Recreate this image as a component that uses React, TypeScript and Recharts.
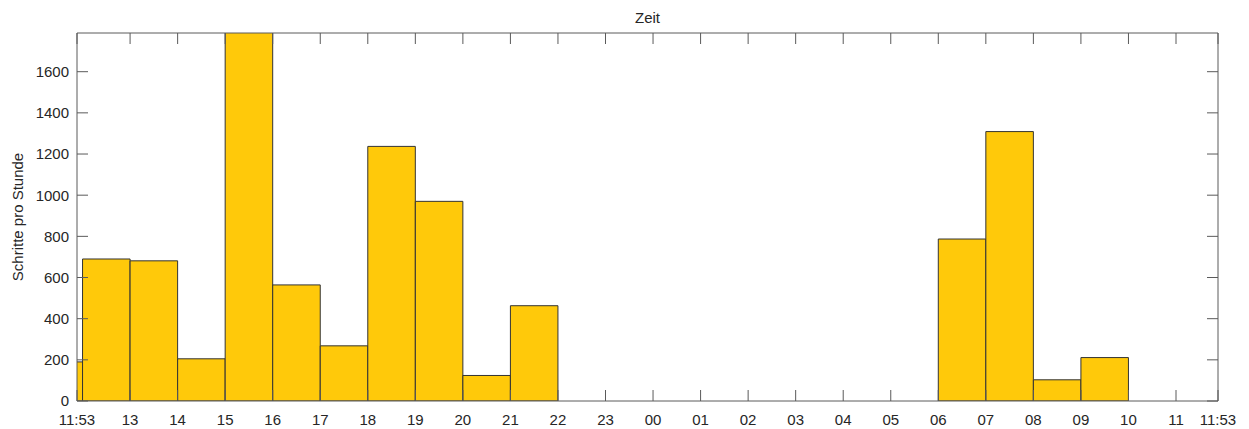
import { BarChart, Bar, XAxis, YAxis, Label } from "recharts";

// window starts at 11:53 and runs for 24 hours
const START = 11 + 53 / 60;
const END = START + 24;

// hourly bins (start hour, counting past midnight as 24, 25, ...)
const binHours = [11, 12, 13, 14, 15, 16, 17, 18, 19, 20, 21, 22, 23, 24, 25, 26, 27, 28, 29, 30, 31, 32, 33, 34, 35];
const stepsPerHour = [190, 690, 681, 205, 1850, 564, 268, 1237, 970, 124, 463, 0, 0, 0, 0, 0, 0, 0, 0, 787, 1309, 103, 211, 0, 0];

const xTicks = [START, 13, 14, 15, 16, 17, 18, 19, 20, 21, 22, 23, 24, 25, 26, 27, 28, 29, 30, 31, 32, 33, 34, 35, END];
const xTickLabels = ["11:53", "13", "14", "15", "16", "17", "18", "19", "20", "21", "22", "23", "00", "01", "02", "03", "04", "05", "06", "07", "08", "09", "10", "11", "11:53"];
const yTicks = [0, 200, 400, 600, 800, 1000, 1200, 1400, 1600];
const Y_MAX = 1788;

const data = binHours.map((h, i) => ({ mid: h + 0.5, steps: stepsPerHour[i] }));

const W = 1249;
const H = 429;
const M = { top: 32, right: 30, left: 0, bottom: 0 };
const Y_AXIS_W = 77;
const X_AXIS_H = 28;
const PLOT_W = W - M.left - M.right - 1 - Y_AXIS_W;

const FONT = "'Liberation Sans', Arial, Helvetica, sans-serif";
const TEXT = "#262626";
const AXIS = "#5a5a5a";
const TICK_LEN = 11;

const labelFor = (v: number) => {
  const i = xTicks.indexOf(v);
  return i >= 0 ? xTickLabels[i] : "";
};

const BottomTick = (props: any) => {
  const { x, y, payload } = props;
  return (
    <g>
      <line x1={x} x2={x} y1={y} y2={y - TICK_LEN} stroke={AXIS} strokeWidth={1} />
      <text x={x} y={y + 24} textAnchor="middle" fill={TEXT} fontSize={15} fontFamily={FONT}>
        {labelFor(payload.value)}
      </text>
    </g>
  );
};

const TopTick = (props: any) => {
  const { x, y } = props;
  return <line x1={x} x2={x} y1={y} y2={y + TICK_LEN} stroke={AXIS} strokeWidth={1} />;
};

const LeftTick = (props: any) => {
  const { x, y, payload } = props;
  return (
    <g>
      <line x1={x} x2={x + TICK_LEN} y1={y} y2={y} stroke={AXIS} strokeWidth={1} />
      <text x={x - 8} y={y} dy="0.36em" textAnchor="end" fill={TEXT} fontSize={15} fontFamily={FONT}>
        {payload.value}
      </text>
    </g>
  );
};

const RightTick = (props: any) => {
  const { x, y } = props;
  return <line x1={x} x2={x - TICK_LEN} y1={y} y2={y} stroke={AXIS} strokeWidth={1} />;
};

export default function App() {
  return (
    <div style={{ position: "absolute", left: 0, top: 0, width: W, height: H, background: "#fff" }}>
      <BarChart width={W} height={H} data={data} margin={M} barCategoryGap={0}>
        <XAxis
          dataKey="mid"
          type="number"
          domain={[START, END]}
          allowDataOverflow
          ticks={xTicks}
          interval={0}
          height={X_AXIS_H}
          tickSize={0}
          tickMargin={0}
          tickLine={false}
          tick={<BottomTick />}
          axisLine={{ stroke: AXIS, strokeWidth: 1 }}
        />
        <XAxis
          xAxisId="top"
          dataKey="mid"
          orientation="top"
          type="number"
          domain={[START, END]}
          allowDataOverflow
          ticks={xTicks}
          interval={0}
          height={1}
          tickSize={0}
          tickMargin={0}
          tickLine={false}
          tick={<TopTick />}
          axisLine={{ stroke: AXIS, strokeWidth: 1 }}
        >
          <Label
            content={({ viewBox }: any) => (
              <text
                x={viewBox.x + viewBox.width / 2}
                y={viewBox.y - 9}
                textAnchor="middle"
                fill={TEXT}
                fontSize={15}
                fontFamily={FONT}
              >
                Zeit
              </text>
            )}
          />
        </XAxis>
        <YAxis
          type="number"
          domain={[0, Y_MAX]}
          allowDataOverflow
          ticks={yTicks}
          interval={0}
          width={Y_AXIS_W}
          tickSize={0}
          tickMargin={0}
          tickLine={false}
          tick={<LeftTick />}
          axisLine={{ stroke: AXIS, strokeWidth: 1 }}
        >
          <Label
            content={({ viewBox }: any) => (
              <text
                transform={`translate(${viewBox.x + 23}, ${viewBox.y + viewBox.height / 2}) rotate(-90)`}
                textAnchor="middle"
                fill={TEXT}
                fontSize={15}
                fontFamily={FONT}
              >
                Schritte pro Stunde
              </text>
            )}
          />
        </YAxis>
        <YAxis
          yAxisId="right"
          orientation="right"
          type="number"
          domain={[0, Y_MAX]}
          allowDataOverflow
          ticks={yTicks}
          interval={0}
          width={1}
          tickSize={0}
          tickMargin={0}
          tickLine={false}
          tick={<RightTick />}
          axisLine={{ stroke: AXIS, strokeWidth: 1 }}
        />
        <Bar
          dataKey="steps"
          fill="#FFC90A"
          stroke="#333333"
          strokeWidth={1}
          barSize={PLOT_W / 24 - 0.02}
          isAnimationActive={false}
        />
        <Bar
          dataKey="steps"
          xAxisId="top"
          yAxisId="right"
          fill="none"
          stroke="none"
          barSize={PLOT_W / 24 - 0.02}
          isAnimationActive={false}
        />
      </BarChart>
    </div>
  );
}
